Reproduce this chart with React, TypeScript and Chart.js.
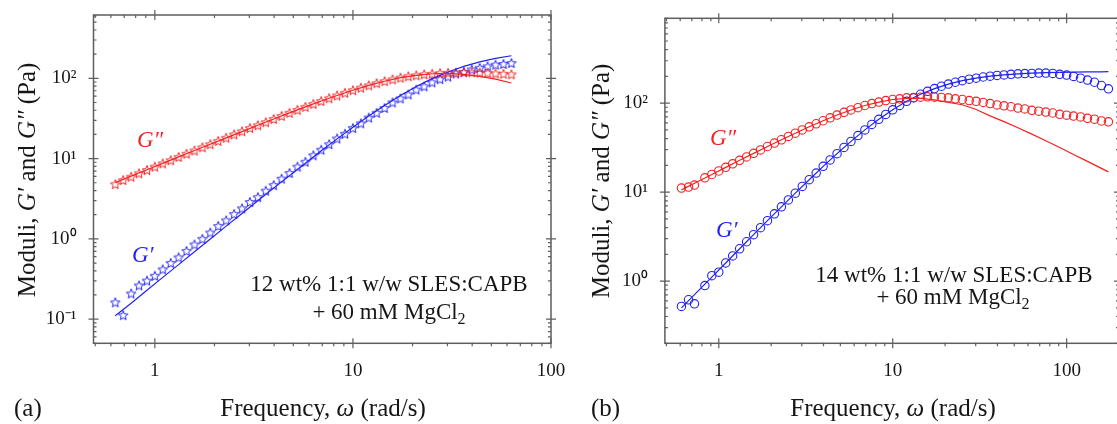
import React, { useEffect, useRef } from "react";
import { Chart, registerables } from "chart.js";

Chart.register(...registerables);

const FONT = '"Liberation Serif", "Times New Roman", Times, serif';
const RED = "rgb(244, 34, 34)";
const BLUE = "rgb(34, 34, 244)";
const INK = "#161616";
const FRAME = "#5e5e5e";

// ---------- Panel (a): 12 wt% ----------
const omegaA = [0.631, 0.692, 0.759, 0.832, 0.912, 1.0, 1.096, 1.202, 1.318, 1.445, 1.585, 1.738, 1.905, 2.089, 2.291, 2.512, 2.754, 3.02, 3.311, 3.631, 3.981, 4.365, 4.786, 5.248, 5.754, 6.31, 6.918, 7.586, 8.318, 9.12, 10.0, 10.96, 12.02, 13.18, 14.45, 15.85, 17.38, 19.05, 20.89, 22.91, 25.12, 27.54, 30.2, 33.11, 36.31, 39.81, 43.65, 47.86, 52.48, 57.54, 63.1];
const gppA = [4.8, 5.4, 5.95, 6.55, 7.2, 7.94, 8.71, 9.55, 10.5, 11.5, 12.6, 13.8, 15.1, 16.6, 18.2, 20.0, 21.9, 24.0, 26.0, 28.4, 31.1, 34.0, 37.1, 40.5, 44.1, 48.0, 52.1, 56.5, 61.1, 66.1, 71.1, 76.4, 81.7, 86.9, 92.0, 97.0, 102, 106, 109, 112, 114, 116, 117, 118, 119, 119, 118, 117, 115, 114, 112];
const gpA = [0.162, 0.112, 0.209, 0.263, 0.302, 0.347, 0.417, 0.501, 0.589, 0.708, 0.851, 1.0, 1.2, 1.45, 1.7, 2.04, 2.4, 2.88, 3.31, 3.98, 4.68, 5.62, 6.61, 7.94, 9.12, 11.0, 12.9, 15.1, 17.8, 20.4, 24.0, 27.5, 32.4, 37.2, 42.7, 50.1, 56.2, 63.1, 72.4, 79.4, 89.1, 97.7, 105, 115, 120, 129, 135, 141, 148, 151, 155];
const fitOmegaA = [0.631, 0.759, 0.912, 1.096, 1.318, 1.585, 1.905, 2.291, 2.754, 3.311, 3.981, 4.786, 5.754, 6.918, 8.318, 10.0, 12.02, 14.45, 17.38, 20.89, 25.12, 30.2, 36.31, 43.65, 52.48, 63.1];
const fitGppA = [5.02, 6.04, 7.26, 8.71, 10.5, 12.6, 15.1, 18.1, 21.7, 26.0, 31.1, 37.1, 44.1, 52.1, 61.1, 71.1, 81.7, 92.0, 102, 109, 114, 115, 112, 106, 97.5, 87.5];
const fitGpA = [0.11, 0.158, 0.229, 0.331, 0.478, 0.69, 0.995, 1.44, 2.07, 2.98, 4.29, 6.14, 8.77, 12.5, 17.6, 24.6, 34.0, 46.0, 61.1, 79.1, 99.1, 120, 141, 160, 177, 191];

// ---------- Panel (b): 14 wt% ----------
const omegaB = [0.61, 0.67, 0.725, 0.832, 0.912, 1.0, 1.096, 1.202, 1.318, 1.445, 1.585, 1.738, 1.905, 2.089, 2.291, 2.512, 2.754, 3.02, 3.311, 3.631, 3.981, 4.365, 4.786, 5.248, 5.754, 6.31, 6.918, 7.586, 8.318, 9.12, 10.0, 10.96, 12.02, 13.18, 14.45, 15.85, 17.38, 19.05, 20.89, 22.91, 25.12, 27.54, 30.2, 33.11, 36.31, 39.81, 43.65, 47.86, 52.48, 57.54, 63.1, 69.18, 75.86, 83.18, 91.2, 100, 109.6, 120.2, 131.8, 144.5, 158.5, 173.8];
const gppB = [11.1, 11.4, 12.0, 14.5, 15.8, 17.3, 19.0, 20.8, 22.8, 24.9, 27.3, 29.8, 32.6, 35.6, 38.8, 42.3, 46.0, 50.0, 54.3, 58.7, 63.5, 68.5, 73.6, 78.9, 83.9, 89.1, 94.2, 98.9, 103, 107, 110, 112, 115, 116, 117, 118, 117, 116, 115, 112, 110, 107, 105, 102, 98.9, 95.5, 93.3, 91.2, 88.1, 86.1, 83.2, 81.3, 79.4, 77.6, 75.0, 73.3, 71.6, 70.0, 67.6, 66.1, 63.1, 61.7];
const gpB = [0.519, 0.617, 0.556, 0.891, 1.15, 1.26, 1.6, 1.92, 2.31, 2.77, 3.33, 3.99, 4.78, 5.71, 6.84, 8.17, 9.75, 11.6, 13.8, 16.4, 19.5, 23.0, 27.1, 31.8, 37.2, 43.3, 50.1, 57.7, 65.9, 74.8, 84.3, 94.4, 105, 115, 126, 136, 146, 155, 164, 172, 179, 186, 191, 197, 201, 205, 208, 211, 214, 215, 216, 218, 218, 216, 211, 207, 200, 191, 182, 172, 158, 145];
const fitOmegaB = [0.61, 0.759, 0.912, 1.096, 1.318, 1.585, 1.905, 2.291, 2.754, 3.311, 3.981, 4.786, 5.754, 6.918, 8.318, 10.0, 12.02, 14.45, 17.38, 20.89, 25.12, 30.2, 36.31, 43.65, 52.48, 63.1, 75.86, 91.2, 109.6, 131.8, 158.5, 173.8];
const fitGppB = [10.6, 13.2, 15.8, 19.0, 22.8, 27.3, 32.6, 38.8, 46.0, 54.3, 63.5, 73.6, 83.9, 94.2, 103, 110, 113, 113, 109, 102, 96, 85, 72.1, 62.1, 53.0, 44.9, 37.8, 31.7, 26.5, 22.2, 18.5, 16.9];
const fitGpB = [0.5, 0.771, 1.11, 1.6, 2.31, 3.33, 4.78, 6.84, 9.75, 13.8, 19.5, 27.1, 37.2, 50.1, 65.9, 84.3, 105, 126, 146, 164, 179, 191, 201, 208, 214, 218, 221, 222, 224, 225, 225, 226];

// ---------- Tick labels ----------
const xTicks = [1, 10, 100];
const xTickLabels = ["1", "10", "100"];
const yTicksA = [0.1, 1, 10, 100];
const yTickLabelsA = ["10\u207B\u00B9", "10\u2070", "10\u00B9", "10\u00B2"];
const yTicksB = [1, 10, 100];
const yTickLabelsB = ["10\u2070", "10\u00B9", "10\u00B2"];

type Seg = { t: string; italic?: boolean; size?: number; dy?: number };
type TextItem = { segs: Seg[]; x: number; y: number; align: "left" | "center"; size: number; color: string; rotate?: boolean };

interface Panel {
  offset: number; width: number;
  left: number; right: number; top: number; bottom: number;
  xMin: number; xMax: number; yMin: number; yMax: number;
  yTicks: number[]; yTickLabels: string[];
  marker: "star" | "circle";
  omega: number[]; gpp: number[]; gp: number[];
  fitOmega: number[]; fitGpp: number[]; fitGp: number[];
  texts: TextItem[];
}

const xTitle: Seg[] = [{ t: "Frequency, " }, { t: "\u03C9", italic: true }, { t: " (rad/s)" }];
const yTitle: Seg[] = [{ t: "Moduli, " }, { t: "G\u2032", italic: true }, { t: " and " }, { t: "G\u2033", italic: true }, { t: " (Pa)" }];
const saltLine: Seg[] = [{ t: "+ 60 mM MgCl" }, { t: "2", size: 16, dy: 5 }];

const panelA: Panel = {
  offset: 0, width: 600,
  left: 93.5, right: 551, top: 15, bottom: 343.3,
  xMin: 0.49, xMax: 100, yMin: 0.05, yMax: 615,
  yTicks: yTicksA, yTickLabels: yTickLabelsA,
  marker: "star",
  omega: omegaA, gpp: gppA, gp: gpA,
  fitOmega: fitOmegaA, fitGpp: fitGppA, fitGp: fitGpA,
  texts: [
    { segs: xTitle, x: 323, y: 416, align: "center", size: 25, color: INK },
    { segs: yTitle, x: 35, y: 180, align: "center", size: 25, color: INK, rotate: true },
    { segs: [{ t: "(a)" }], x: 14, y: 416, align: "left", size: 25, color: INK },
    { segs: [{ t: "12 wt% 1:1 w/w SLES:CAPB" }], x: 389, y: 291, align: "center", size: 23, color: INK },
    { segs: saltLine, x: 389, y: 318.5, align: "center", size: 23, color: INK },
    { segs: [{ t: "G\u2033", italic: true }], x: 137, y: 147, align: "left", size: 23, color: RED },
    { segs: [{ t: "G\u2032", italic: true }], x: 132, y: 261.5, align: "left", size: 23, color: BLUE },
  ],
};

const panelB: Panel = {
  offset: 557, width: 570,
  left: 107.9, right: 562, top: 18.3, bottom: 343.3,
  xMin: 0.49, xMax: 200, yMin: 0.2, yMax: 900,
  yTicks: yTicksB, yTickLabels: yTickLabelsB,
  marker: "circle",
  omega: omegaB, gpp: gppB, gp: gpB,
  fitOmega: fitOmegaB, fitGpp: fitGppB, fitGp: fitGpB,
  texts: [
    { segs: xTitle, x: 336, y: 416, align: "center", size: 25, color: INK },
    { segs: yTitle, x: 52, y: 181, align: "center", size: 25, color: INK, rotate: true },
    { segs: [{ t: "(b)" }], x: 34, y: 416, align: "left", size: 25, color: INK },
    { segs: [{ t: "14 wt% 1:1 w/w SLES:CAPB" }], x: 397, y: 282, align: "center", size: 23, color: INK },
    { segs: saltLine, x: 396, y: 303.5, align: "center", size: 23, color: INK },
    { segs: [{ t: "G\u2033", italic: true }], x: 153, y: 145, align: "left", size: 23, color: RED },
    { segs: [{ t: "G\u2032", italic: true }], x: 159, y: 237, align: "left", size: 23, color: BLUE },
  ],
};

function makeStar(color: string): HTMLCanvasElement {
  const c = document.createElement("canvas");
  const s = 12;
  c.width = s;
  c.height = s;
  const ctx = c.getContext("2d")!;
  ctx.strokeStyle = color;
  ctx.lineWidth = 1;
  ctx.beginPath();
  for (let i = 0; i < 10; i++) {
    const r = i % 2 === 0 ? 5 : 2.2;
    const a = -Math.PI / 2 + (i * Math.PI) / 5;
    const px = s / 2 + r * Math.cos(a);
    const py = s / 2 + 0.5 + r * Math.sin(a);
    if (i === 0) ctx.moveTo(px, py);
    else ctx.lineTo(px, py);
  }
  ctx.closePath();
  ctx.stroke();
  return c;
}

function drawText(ctx: CanvasRenderingContext2D, item: TextItem) {
  ctx.save();
  const fontOf = (s: Seg) => `${s.italic ? "italic " : ""}${s.size ?? item.size}px ${FONT}`;
  let total = 0;
  const widths = item.segs.map((s) => {
    ctx.font = fontOf(s);
    const w = ctx.measureText(s.t).width;
    total += w;
    return w;
  });
  ctx.translate(item.x, item.y);
  if (item.rotate) ctx.rotate(-Math.PI / 2);
  let cx = item.align === "center" ? -total / 2 : 0;
  ctx.textAlign = "left";
  ctx.textBaseline = "alphabetic";
  ctx.fillStyle = item.color;
  item.segs.forEach((s, i) => {
    ctx.font = fontOf(s);
    ctx.fillText(s.t, cx, s.dy ?? 0);
    cx += widths[i];
  });
  ctx.restore();
}

function logMinors(min: number, max: number): number[] {
  const out: number[] = [];
  for (let e = -3; e <= 3; e++) {
    for (let m = 2; m <= 9; m++) {
      const v = m * Math.pow(10, e);
      if (v >= min * 0.999 && v <= max * 1.001) out.push(v);
    }
  }
  return out;
}

function framePlugin(p: Panel) {
  return {
    id: "frameAndText",
    afterDraw(chart: any) {
      const ctx: CanvasRenderingContext2D = chart.ctx;
      const a = chart.chartArea;
      const xs = chart.scales.x;
      const ys = chart.scales.y;
      ctx.save();
      ctx.strokeStyle = FRAME;
      ctx.lineWidth = 1.5;
      ctx.strokeRect(a.left, a.top, a.right - a.left, a.bottom - a.top);
      ctx.lineWidth = 1.2;
      ctx.beginPath();
      for (const v of xTicks) {
        const px = xs.getPixelForValue(v);
        if (px < a.left - 0.5 || px > a.right + 0.5) continue;
        ctx.moveTo(px, a.bottom - 5);
        ctx.lineTo(px, a.bottom + 5);
        ctx.moveTo(px, a.top - 5);
        ctx.lineTo(px, a.top + 5);
      }
      for (const v of logMinors(p.xMin, p.xMax)) {
        const px = xs.getPixelForValue(v);
        ctx.moveTo(px, a.bottom - 0.5);
        ctx.lineTo(px, a.bottom + 3);
        ctx.moveTo(px, a.top);
        ctx.lineTo(px, a.top + 3);
      }
      for (const v of p.yTicks) {
        const py = ys.getPixelForValue(v);
        ctx.moveTo(a.left - 5, py);
        ctx.lineTo(a.left + 5, py);
        ctx.moveTo(a.right - 5, py);
        ctx.lineTo(a.right + 5, py);
      }
      for (const v of logMinors(p.yMin, p.yMax)) {
        const py = ys.getPixelForValue(v);
        ctx.moveTo(a.left, py);
        ctx.lineTo(a.left + 3, py);
        ctx.moveTo(a.right - 3, py);
        ctx.lineTo(a.right, py);
      }
      ctx.stroke();
      ctx.restore();
      for (const t of p.texts) drawText(ctx, t);
    },
  };
}

function zeroPadding(s: any) {
  s.paddingLeft = 0;
  s.paddingRight = 0;
  s.paddingTop = 0;
  s.paddingBottom = 0;
}

function buildConfig(p: Panel): any {
  const redMarker = p.marker === "star" ? makeStar(RED) : "circle";
  const blueMarker = p.marker === "star" ? makeStar(BLUE) : "circle";
  const pts = (xs: number[], ys: number[]) => xs.map((x, i) => ({ x, y: ys[i] }));
  return {
    type: "scatter",
    data: {
      datasets: [
        { label: "G'' fit", data: pts(p.fitOmega, p.fitGpp), showLine: true, borderColor: RED, borderWidth: 1.2, pointRadius: 0, fill: false, tension: 0, order: 0 },
        { label: "G' fit", data: pts(p.fitOmega, p.fitGp), showLine: true, borderColor: BLUE, borderWidth: 1.2, pointRadius: 0, fill: false, tension: 0, order: 0 },
        { label: "G''", data: pts(p.omega, p.gpp), showLine: false, pointStyle: redMarker, pointRadius: 4.2, pointBorderWidth: 1.1, borderColor: RED, backgroundColor: "rgba(0,0,0,0)", order: 1 },
        { label: "G'", data: pts(p.omega, p.gp), showLine: false, pointStyle: blueMarker, pointRadius: 4.2, pointBorderWidth: 1.1, borderColor: BLUE, backgroundColor: "rgba(0,0,0,0)", order: 1 },
      ],
    },
    options: {
      responsive: false,
      animation: false,
      devicePixelRatio: 1,
      events: [],
      layout: { padding: { left: 0, top: p.top, right: p.width - p.right, bottom: 0 } },
      plugins: { legend: { display: false }, tooltip: { enabled: false } },
      scales: {
        x: {
          type: "logarithmic",
          position: "bottom",
          min: p.xMin,
          max: p.xMax,
          grid: { display: false, drawTicks: false },
          border: { display: false },
          ticks: {
            autoSkip: false,
            maxRotation: 0,
            minRotation: 0,
            padding: 16,
            color: INK,
            font: { family: FONT, size: 19 },
            callback: (v: number) => {
              const i = xTicks.indexOf(v);
              return i >= 0 ? xTickLabels[i] : "";
            },
          },
          afterBuildTicks: (s: any) => {
            s.ticks = xTicks.filter((v) => v >= p.xMin && v <= p.xMax).map((v) => ({ value: v }));
          },
          afterFit: (s: any) => {
            s.height = 424 - p.bottom;
            zeroPadding(s);
          },
        },
        y: {
          type: "logarithmic",
          position: "left",
          min: p.yMin,
          max: p.yMax,
          grid: { display: false, drawTicks: false },
          border: { display: false },
          ticks: {
            autoSkip: false,
            padding: 17,
            color: INK,
            font: { family: FONT, size: 19 },
            callback: (v: number) => {
              const i = p.yTicks.indexOf(v);
              return i >= 0 ? p.yTickLabels[i] : "";
            },
          },
          afterBuildTicks: (s: any) => {
            s.ticks = p.yTicks.map((v) => ({ value: v }));
          },
          afterFit: (s: any) => {
            s.width = p.left;
            zeroPadding(s);
          },
        },
      },
    },
    plugins: [framePlugin(p)],
  };
}

function PanelChart({ p }: { p: Panel }) {
  const ref = useRef<HTMLCanvasElement>(null);
  useEffect(() => {
    const canvas = ref.current;
    if (!canvas) return;
    const chart = new Chart(canvas, buildConfig(p));
    return () => chart.destroy();
  }, [p]);
  return (
    <canvas
      ref={ref}
      width={p.width}
      height={424}
      style={{ position: "absolute", left: p.offset, top: 0, width: p.width, height: 424 }}
    />
  );
}

export default function App() {
  return (
    <div
      style={{
        position: "fixed",
        left: 0,
        top: 0,
        width: 1117,
        height: 424,
        overflow: "hidden",
        background: "#ffffff",
      }}
    >
      <PanelChart p={panelA} />
      <PanelChart p={panelB} />
    </div>
  );
}
